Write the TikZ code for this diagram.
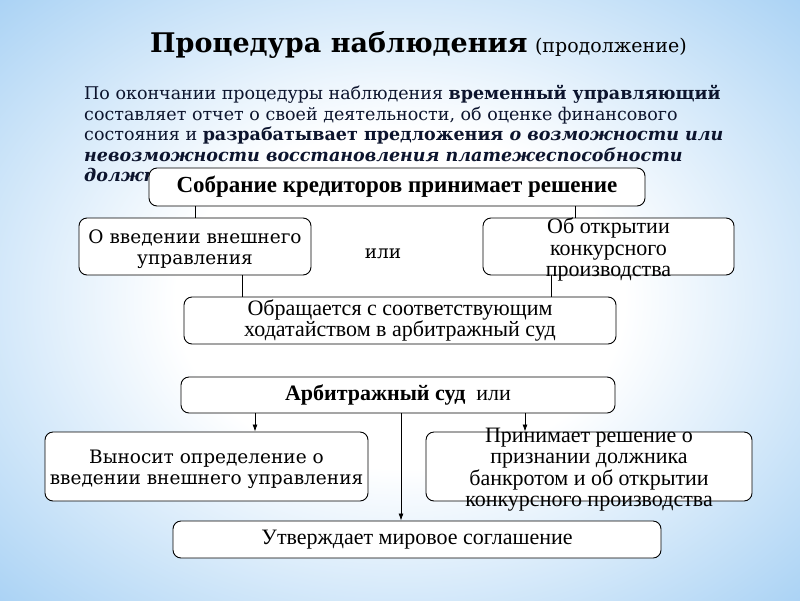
\documentclass[tikz,border=0pt]{standalone}
\usepackage{fontspec}
\setmainfont{Liberation Serif}
\newfontfamily\wideserif{DejaVu Serif}
\usetikzlibrary{arrows.meta,positioning}
\definecolor{sky}{RGB}{135,192,240}
\definecolor{ink}{RGB}{12,20,45}
\pgfdeclareradialshading{glow}{\pgfpoint{0bp}{0bp}}{color(0bp)=(white);color(14bp)=(white);color(36bp)=(sky!72!white);color(50bp)=(sky)}

\begin{document}
\begin{tikzpicture}[x=1pt,y=-1pt]
	\useasboundingbox (0,0) rectangle (800,600);
	\shade[shading=glow] (0,0) rectangle (800,600);

	\node[anchor=west,inner sep=0,font=\wideserif\bfseries\fontsize{27}{30}\selectfont] (title) at (150,45) {Процедура наблюдения};
	\node[base right=7pt of title,inner sep=0,font=\wideserif\fontsize{19}{22}\selectfont] (cont) {(продолжение)};
	\node[anchor=north west,align=left,inner sep=0,text=ink,font=\wideserif\fontsize{17.5}{20.5}\selectfont] (report) at (84,85) {По окончании процедуры наблюдения \textbf{временный управляющий}\\ составляет отчет о своей деятельности, об оценке финансового\\ состояния и \textbf{разрабатывает предложения \textit{о возможности или}}\\ \textbf{\textit{невозможности восстановления платежеспособности}}\\ \textbf{\textit{должника.}}};

	\begin{scope}[every node/.style={rectangle,draw,line width=0.9pt,rounded corners=8pt,fill=white,align=center,inner sep=2pt,font=\fontsize{22}{21.5}\selectfont},
		every label/.style={draw=none,fill=none,align=center,yshift=-3pt,font=\fontsize{22}{21.5}\selectfont}]
		\node[minimum width=496pt,minimum height=38pt,font=\bfseries\fontsize{23}{24}\selectfont] (meeting) at (397,187) {Собрание кредиторов принимает решение};
		\node[minimum width=232pt,minimum height=57pt,label={[font=\wideserif\fontsize{18.5}{21}\selectfont]center:{О введении внешнего\\управления}}] (ext) at (195,246.5) {};
		\node[minimum width=251pt,minimum height=57pt,label={center:{Об открытии\\конкурсного\\производства}}] (open) at (608.5,246.5) {};
		\node[draw=none,fill=none,font=\wideserif\fontsize{18.5}{21}\selectfont] (or) at (383,254) {или};
		\node[minimum width=432pt,minimum height=47pt] (petition) at (400,320.5) {Обращается с соответствующим\\ходатайством в арбитражный суд};

		\node[minimum width=434pt,minimum height=36pt] (court) at (398,395) {\textbf{Арбитражный суд}\ \ или};
		\node[minimum width=323pt,minimum height=69pt,label={[font=\wideserif\fontsize{18.5}{21}\selectfont]center:{Выносит определение о\\введении внешнего управления}}] (decree) at (206.5,466.5) {};
		\node[minimum width=326pt,minimum height=69pt,label={center:{Принимает решение о\\признании должника\\банкротом и об открытии\\конкурсного производства}}] (bankrupt) at (589,466.5) {};
		\node[minimum width=488pt,minimum height=37pt] (settle) at (417,539.5) {Утверждает мировое соглашение};
	\end{scope}

	\begin{scope}[line width=0.8pt]
	\draw (meeting.south -| ext.north) -- (ext.north);
	\draw ([xshift=-33pt]open.north) -- ([xshift=-33pt]open.north |- meeting.south);
	\draw ([xshift=47pt]ext.south) -- ([xshift=47pt]ext.south |- petition.north);
	\draw ([xshift=-57pt]open.south) -- ([xshift=-57pt]open.south |- petition.north);
	\draw[-{Latex[length=7pt,width=5pt]}] ([xshift=48.5pt]decree.north |- court.south) -- ([xshift=48.5pt]decree.north);
	\draw[-{Latex[length=7pt,width=5pt]}] ([xshift=3pt]court.south) -- ([xshift=3pt]court.south |- settle.north);
	\draw[-{Latex[length=7pt,width=5pt]}] ([xshift=-64pt]bankrupt.north |- court.south) -- ([xshift=-64pt]bankrupt.north);
	\end{scope}
\end{tikzpicture}
\end{document}
